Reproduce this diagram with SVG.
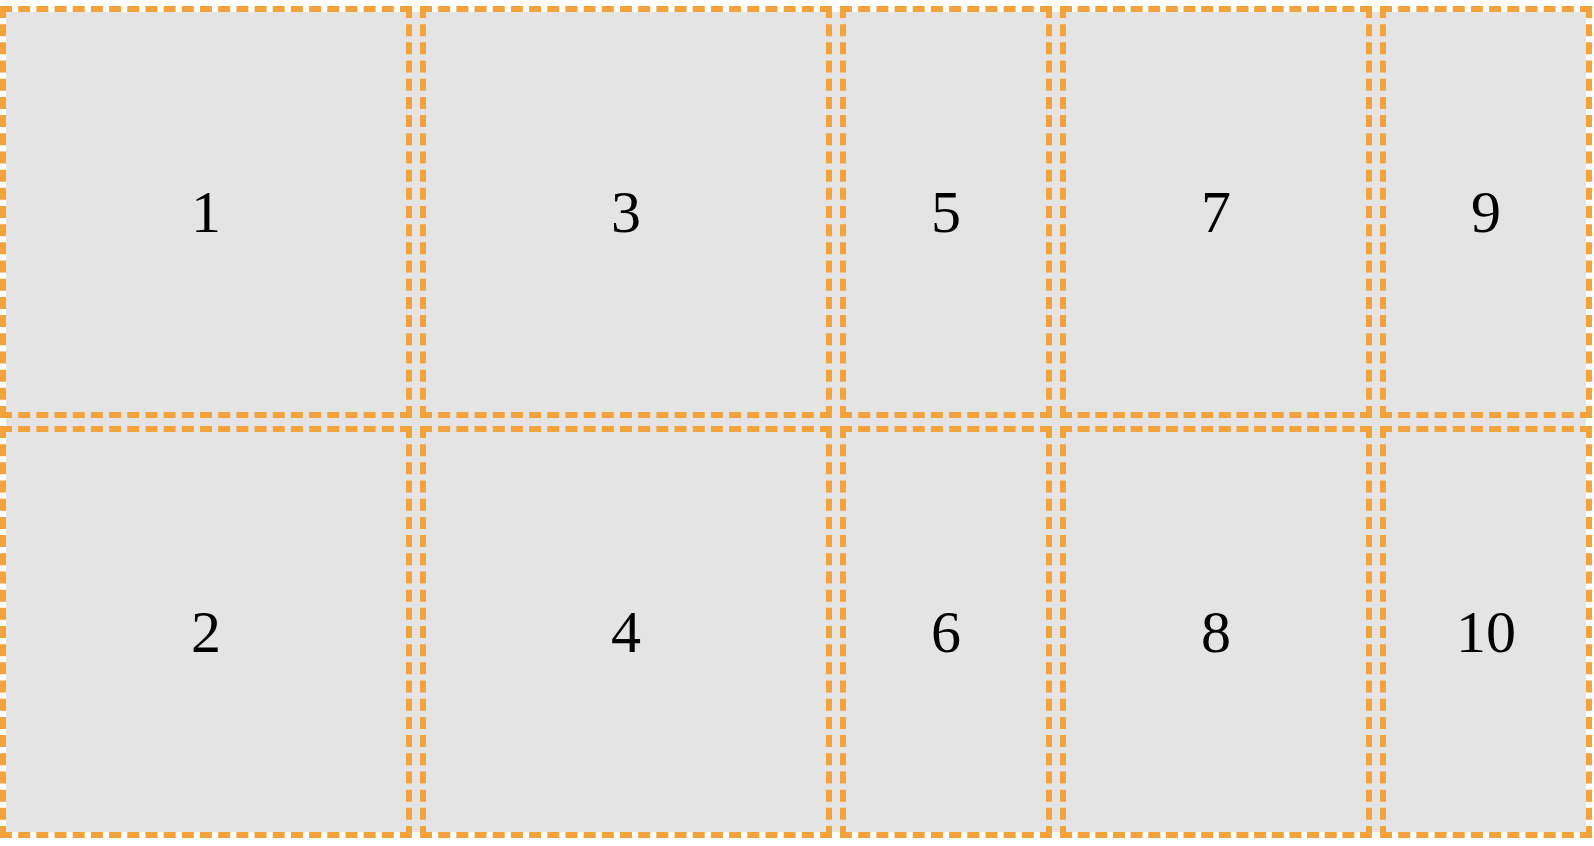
<svg xmlns="http://www.w3.org/2000/svg" width="1594" height="846" viewBox="0 0 1594 846">
<style>
.e{stroke:#f4a23b;stroke-width:6;fill:none;stroke-linecap:butt}
.d412{stroke-dasharray:12 6.1818}
.d212{stroke-dasharray:12 6.1818}
.d312{stroke-dasharray:12 5.647}
.t{font-family:"Liberation Serif","Times New Roman",serif;font-size:60px;fill:#000;text-anchor:middle}
</style>
<rect x="0" y="0" width="1594" height="846" fill="#ffffff"/>
<rect x="6" y="12" width="1580" height="820" fill="#e4e4e4"/>
<g id="n1"><g class="e d412"><line x1="0" y1="9" x2="412" y2="9"/><line x1="0" y1="415" x2="412" y2="415"/><line x1="3" y1="6" x2="3" y2="418"/><line x1="409" y1="6" x2="409" y2="418"/></g><text class="t" x="206" y="232">1</text></g>
<g id="n2"><g class="e d412"><line x1="0" y1="429" x2="412" y2="429"/><line x1="0" y1="835" x2="412" y2="835"/><line x1="3" y1="426" x2="3" y2="838"/><line x1="409" y1="426" x2="409" y2="838"/></g><text class="t" x="206" y="652">2</text></g>
<g id="n3"><g class="e d412"><line x1="420" y1="9" x2="832" y2="9"/><line x1="420" y1="415" x2="832" y2="415"/><line x1="423" y1="6" x2="423" y2="418"/><line x1="829" y1="6" x2="829" y2="418"/></g><text class="t" x="626" y="232">3</text></g>
<g id="n4"><g class="e d412"><line x1="420" y1="429" x2="832" y2="429"/><line x1="420" y1="835" x2="832" y2="835"/><line x1="423" y1="426" x2="423" y2="838"/><line x1="829" y1="426" x2="829" y2="838"/></g><text class="t" x="626" y="652">4</text></g>
<g id="n5"><g class="e d212"><line x1="840" y1="9" x2="1052" y2="9"/><line x1="840" y1="415" x2="1052" y2="415"/></g><g class="e d412"><line x1="843" y1="6" x2="843" y2="418"/><line x1="1049" y1="6" x2="1049" y2="418"/></g><text class="t" x="946" y="232">5</text></g>
<g id="n6"><g class="e d212"><line x1="840" y1="429" x2="1052" y2="429"/><line x1="840" y1="835" x2="1052" y2="835"/></g><g class="e d412"><line x1="843" y1="426" x2="843" y2="838"/><line x1="1049" y1="426" x2="1049" y2="838"/></g><text class="t" x="946" y="652">6</text></g>
<g id="n7"><g class="e d312"><line x1="1060" y1="9" x2="1372" y2="9"/><line x1="1060" y1="415" x2="1372" y2="415"/></g><g class="e d412"><line x1="1063" y1="6" x2="1063" y2="418"/><line x1="1369" y1="6" x2="1369" y2="418"/></g><text class="t" x="1216" y="232">7</text></g>
<g id="n8"><g class="e d312"><line x1="1060" y1="429" x2="1372" y2="429"/><line x1="1060" y1="835" x2="1372" y2="835"/></g><g class="e d412"><line x1="1063" y1="426" x2="1063" y2="838"/><line x1="1369" y1="426" x2="1369" y2="838"/></g><text class="t" x="1216" y="652">8</text></g>
<g id="n9"><g class="e d212"><line x1="1380" y1="9" x2="1592" y2="9"/><line x1="1380" y1="415" x2="1592" y2="415"/></g><g class="e d412"><line x1="1383" y1="6" x2="1383" y2="418"/><line x1="1589" y1="6" x2="1589" y2="418"/></g><text class="t" x="1486" y="232">9</text></g>
<g id="n10"><g class="e d212"><line x1="1380" y1="429" x2="1592" y2="429"/><line x1="1380" y1="835" x2="1592" y2="835"/></g><g class="e d412"><line x1="1383" y1="426" x2="1383" y2="838"/><line x1="1589" y1="426" x2="1589" y2="838"/></g><text class="t" x="1486" y="652">10</text></g>
<g id="connectors"></g>
</svg>
